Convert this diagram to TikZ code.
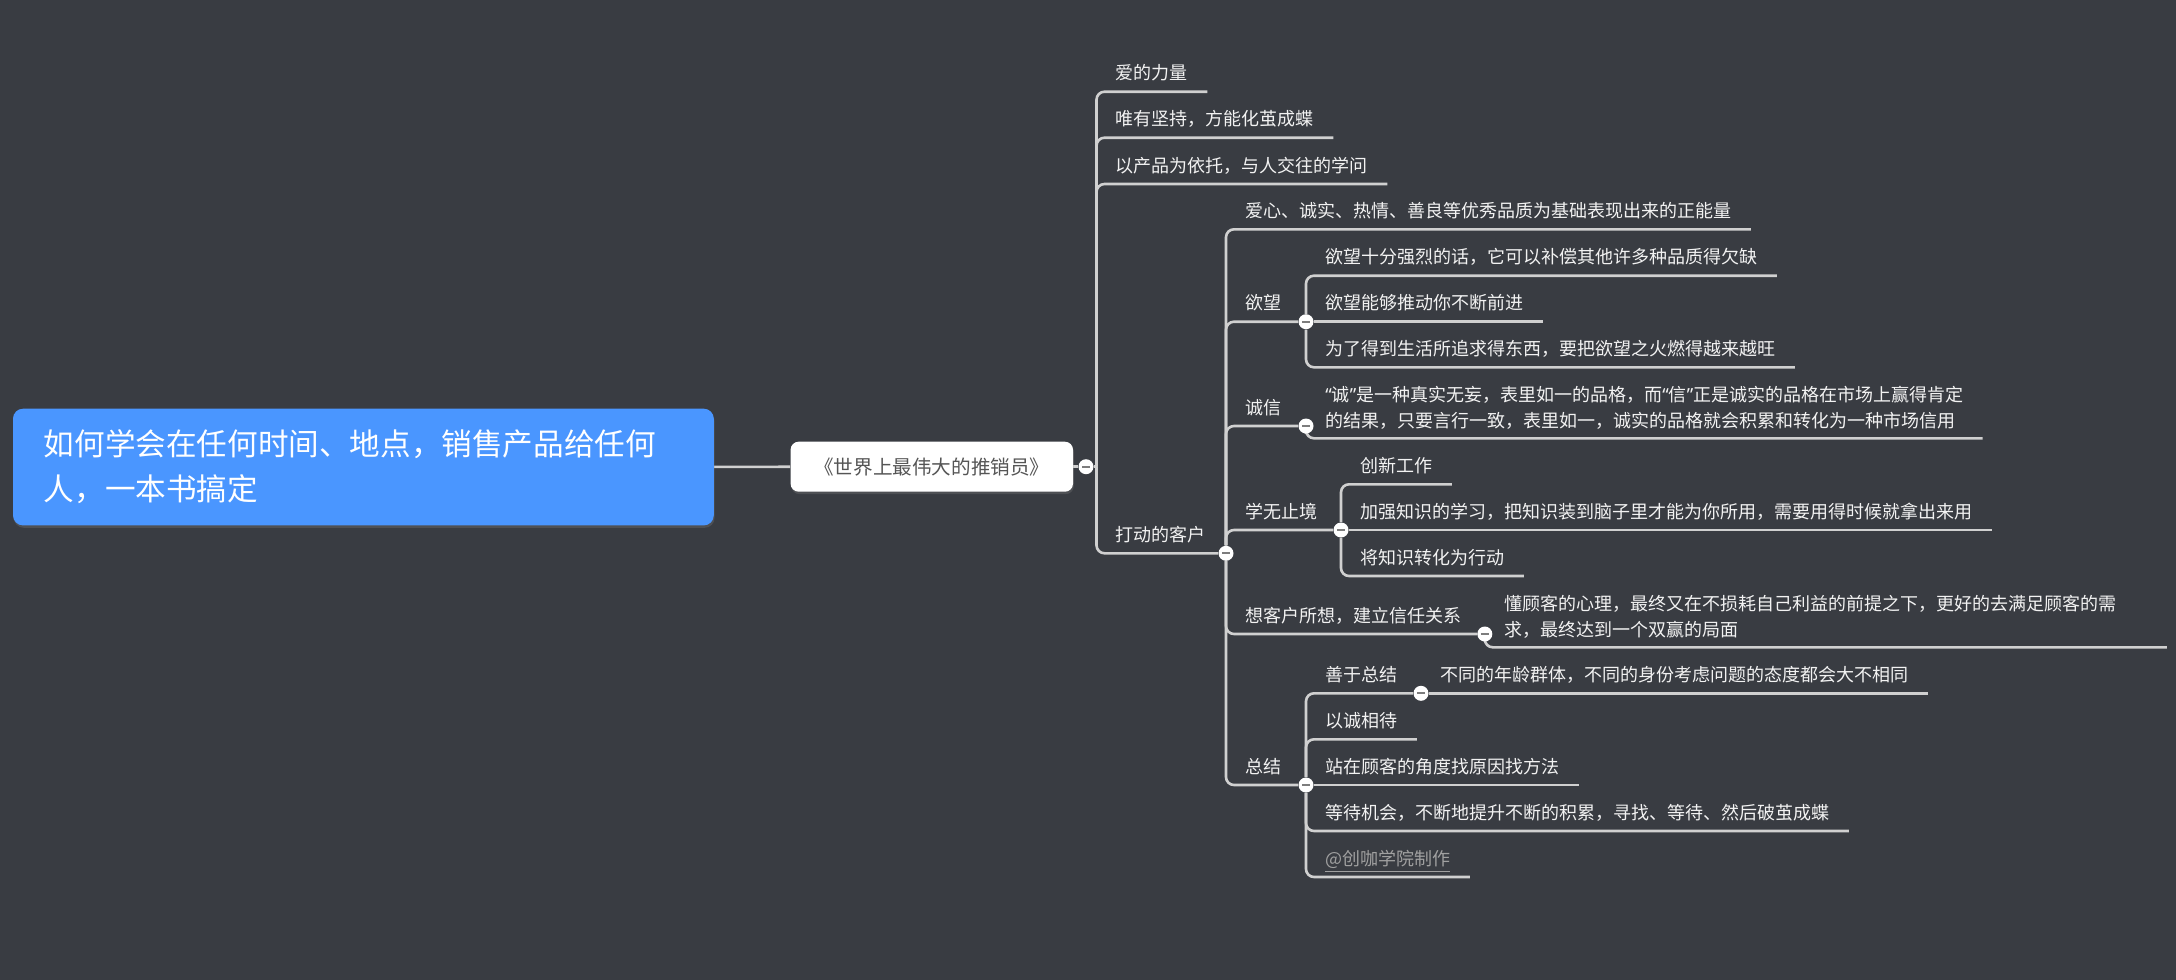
\documentclass[tikz,border=0pt]{standalone}
\usepackage{fontspec}
\setmainfont{Noto Sans CJK SC}
\newfontfamily\quotefont{Noto Sans}
\usetikzlibrary{shadows}
\definecolor{bgcol}{RGB}{57,60,66}
\definecolor{rootblue}{RGB}{74,150,255}
\definecolor{linecol}{RGB}{208,208,208}
\definecolor{leaftext}{RGB}{242,242,242}
\definecolor{booktext}{RGB}{85,85,85}
\definecolor{signcol}{RGB}{160,160,160}
\definecolor{foldmark}{RGB}{125,125,125}
\pgfdeclarelayer{bg}
\pgfdeclarelayer{lines}
\pgfsetlayers{bg,lines,main}
\newcommand\duoline[2]{\vbox{\hbox{#1}\hbox{#2}}}
\newcommand\quoted[1]{{\quotefont“}#1{\quotefont”}}
\tikzset{
  rootbox/.style={anchor=north west, fill=rootblue, rounded corners=5pt, text=white,
    font=\fontsize{15.3pt}{22.5pt}\selectfont, text width=319.5pt, align=left,
    minimum height=58.35pt, inner xsep=15.45pt, inner ysep=0pt,
    drop shadow={opacity=0.3, shadow xshift=0.4pt, shadow yshift=-1.2pt}},
  bookbox/.style={fill=white, rounded corners=4pt, text=booktext,
    font=\fontsize{9.8pt}{12pt}\selectfont, minimum width=141.2pt, minimum height=25pt,
    drop shadow={opacity=0.3, shadow xshift=0.4pt, shadow yshift=-1.2pt}},
  topic/.style={anchor=south west, text=leaftext, font=\fontsize{9pt}{13pt}\selectfont,
    inner xsep=9.5pt, inner ysep=4.6pt, text height=7.92pt, text depth=1.08pt},
  topictwo/.style={topic, inner ysep=4pt, text height=20.92pt},
  fold/.style={circle, fill=white, inner sep=0pt, minimum size=7.5pt,
    path picture={\draw[foldmark, line width=1pt] ([xshift=1.8pt]path picture bounding box.west) -- ([xshift=-1.8pt]path picture bounding box.east);}},
  branch/.style={draw=linecol, line width=1.3pt, rounded corners=4pt},
}
\begin{document}
\begin{tikzpicture}[x=0.5pt, y=-0.5pt]
\begin{pgfonlayer}{bg}
\fill[bgcol] (0,0) rectangle (2176,980);
\end{pgfonlayer}

\node[rootbox] (root) at (12.6,408.3) {如何学会在任何时间、地点，销售产品给任何\\人，一本书搞定};
\node[bookbox] (book) at (931.8,466.7) {《世界上最伟大的推销员》};
\node[fold] (fBook) at (1086,466.7) {};
\coordinate (hub) at (1096.5,466.7);

\node[topic] (love) at (1096.5,91.7) {爱的力量};
\node[topic] (persist) at (1096.5,137.7) {唯有坚持，方能化茧成蝶};
\node[topic] (product) at (1096.5,184) {以产品为依托，与人交往的学问};
\node[topic] (touch) at (1096.5,553.3) {打动的客户};
\node[fold] (fTouch) at (1226,553.3) {};

\node[topic] (energy) at (1226,229.3) {爱心、诚实、热情、善良等优秀品质为基础表现出来的正能量};
\node[topic] (desire) at (1226,321.7) {欲望};
\node[fold] (fDesire) at (1306,321.7) {};
\node[topic] (want1) at (1306,275.7) {欲望十分强烈的话，它可以补偿其他许多种品质得欠缺};
\node[topic] (want2) at (1306,321.7) {欲望能够推动你不断前进};
\node[topic] (want3) at (1306,367.3) {为了得到生活所追求得东西，要把欲望之火燃得越来越旺};

\node[topic] (honest) at (1226,426) {诚信};
\node[fold] (fHonest) at (1306,426) {};
\node[topictwo] (credit) at (1306,438.3) {\duoline{\quoted{诚}是一种真实无妄，表里如一的品格，而\quoted{信}正是诚实的品格在市场上赢得肯定}{的结果，只要言行一致，表里如一，诚实的品格就会积累和转化为一种市场信用}};

\node[topic] (learn) at (1226,530) {学无止境};
\node[fold] (fLearn) at (1341,530) {};
\node[topic] (study1) at (1341,484.3) {创新工作};
\node[topic] (study2) at (1341,530) {加强知识的学习，把知识装到脑子里才能为你所用，需要用得时候就拿出来用};
\node[topic] (study3) at (1341,576) {将知识转化为行动};

\node[topic] (think) at (1226,634) {想客户所想，建立信任关系};
\node[fold] (fThink) at (1484.8,634) {};
\node[topictwo, text width=321.6pt] (trust) at (1484.8,647.3) {\duoline{懂顾客的心理，最终又在不损耗自己利益的前提之下，更好的去满足顾客的需}{求，最终达到一个双赢的局面}};

\node[topic] (summary) at (1226,785) {总结};
\node[fold] (fSummary) at (1306,785) {};
\node[topic] (sumup) at (1306,693.3) {善于总结};
\node[fold] (fSumup) at (1421,693.3) {};
\node[topic] (ages) at (1421,693.3) {不同的年龄群体，不同的身份考虑问题的态度都会大不相同};
\node[topic] (sincere) at (1306,739.3) {以诚相待};
\node[topic] (reason) at (1306,785) {站在顾客的角度找原因找方法};
\node[topic] (wait) at (1306,831) {等待机会，不断地提升不断的积累，寻找、等待、然后破茧成蝶};
\node[topic, text=signcol] (sign) at (1306,877) {\underline{@创咖学院制作}};

\begin{pgfonlayer}{lines}
\draw[branch] (root) -- (book);
\draw[branch] (book) -- (fBook) -- (hub);
\draw[branch] (hub) |- (love.south east);
\draw[branch] (hub) |- (persist.south east);
\draw[branch] (hub) |- (product.south east);
\draw[branch] (hub) |- (fTouch);

\draw[branch] (fTouch) |- (energy.south east);
\draw[branch] (fTouch) |- (fDesire);
\draw[branch] (fTouch) |- (fHonest);
\draw[branch] (fTouch) |- (fLearn);
\draw[branch] (fTouch) |- (fThink);
\draw[branch] (fTouch) |- (fSummary);

\draw[branch] (fDesire) |- (want1.south east);
\draw[branch] (fDesire) -- (want2.south east);
\draw[branch] (fDesire) |- (want3.south east);
\draw[branch] (fHonest) |- (credit.south east);
\draw[branch] (fLearn) |- (study1.south east);
\draw[branch] (fLearn) -- (study2.south east);
\draw[branch] (fLearn) |- (study3.south east);
\draw[branch] (fThink) |- (trust.south east);

\draw[branch] (fSummary) |- (fSumup);
\draw[branch] (fSumup) -- (ages.south east);
\draw[branch] (fSummary) |- (sincere.south east);
\draw[branch] (fSummary) -- (reason.south east);
\draw[branch] (fSummary) |- (wait.south east);
\draw[branch] (fSummary) |- (sign.south east);
\end{pgfonlayer}
\end{tikzpicture}
\end{document}
